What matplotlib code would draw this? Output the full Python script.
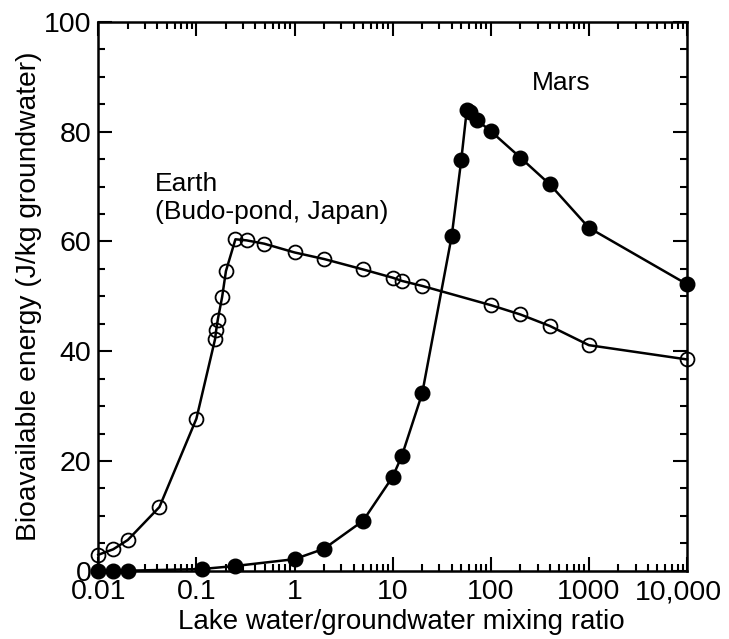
import matplotlib
matplotlib.use("Agg")
import matplotlib.pyplot as plt
import matplotlib.transforms as mtransforms
from matplotlib.ticker import FixedLocator, LogLocator, MultipleLocator, NullFormatter

plt.rcParams['font.family'] = ['Liberation Sans', 'DejaVu Sans']

# Earth (Budo-pond, Japan) - open circles
earth_x = [0.01, 0.0142, 0.02, 0.042, 0.1, 0.155, 0.159, 0.165, 0.183, 0.2,
           0.25, 0.325, 0.49, 1, 2, 5, 10, 12.5, 20, 100, 200, 400, 1000, 10000]
earth_y = [2.9, 3.9, 5.6, 11.6, 27.7, 42.2, 43.8, 45.7, 49.9, 54.6,
           60.4, 60.2, 59.6, 58.0, 56.8, 54.9, 53.4, 52.8, 51.9, 48.4, 46.7, 44.6, 41.1, 38.5]

# Mars - filled circles
mars_x = [0.01, 0.014, 0.02, 0.113, 0.25, 1, 2, 5, 10, 12.4, 20, 40, 50,
          57, 61.4, 71.6, 100, 200, 400, 1000, 10000]
mars_y = [0.0, 0.0, 0.0, 0.3, 0.86, 2.1, 4.0, 9.1, 17.1, 20.9, 32.3, 61.0, 74.8,
          84.0, 83.6, 82.2, 80.1, 75.3, 70.4, 62.5, 52.2]

xticks = [0.01, 0.1, 1, 10, 100, 1000, 10000]
xticklabels = ['0.01', '0.1', '1', '10', '100', '1000', '10,000']
yticks = [0, 20, 40, 60, 80, 100]

fig = plt.figure(figsize=(7.29, 6.39), dpi=100)
ax = fig.add_axes([0.1348, 0.1069, 0.8076, 0.8587])

ax.plot(earth_x, earth_y, color='black', lw=1.8, marker='o', ms=10,
        mfc='none', mec='black', mew=1.3, zorder=3, clip_on=False)
ax.plot(mars_x, mars_y, color='black', lw=1.8, marker='o', ms=10.5,
        mfc='black', mec='black', zorder=4, clip_on=False)

ax.set_xscale('log')
ax.set_xlim(0.01, 10000)
ax.set_ylim(0, 100)

ax.xaxis.set_major_locator(FixedLocator(xticks))
ax.set_xticklabels(xticklabels)
ax.xaxis.set_minor_locator(LogLocator(base=10, subs=range(2, 10), numticks=20))
ax.xaxis.set_minor_formatter(NullFormatter())
ax.set_yticks(yticks)
ax.yaxis.set_minor_locator(MultipleLocator(5))

ax.tick_params(which='both', direction='in', top=True, right=True, width=1.5,
               labelsize=20.5)
ax.tick_params(which='major', length=10)
ax.tick_params(which='minor', length=5)
ax.tick_params(axis='x', pad=6)
ax.tick_params(axis='y', pad=5)
for s in ax.spines.values():
    s.set_linewidth(1.8)

# nudge the last x label left so it stays inside the figure
last = ax.get_xticklabels()[-1]
last.set_transform(last.get_transform() +
                   mtransforms.ScaledTranslation(-6 / 72, 0, fig.dpi_scale_trans))

ax.set_xlabel('Lake water/groundwater mixing ratio', fontsize=20, labelpad=3)
ax.xaxis.label.set_x(0.514)
ax.set_ylabel('Bioavailable energy (J/kg groundwater)', fontsize=20.3, labelpad=1)

ax.text(0.0378, 70.4, 'Earth', fontsize=19, ha='left', va='center')
ax.text(0.0378, 65.3, '(Budo-pond, Japan)', fontsize=19, ha='left', va='center')
ax.text(264, 88.8, 'Mars', fontsize=19, ha='left', va='center')

fig.savefig('out.png', dpi=100)
